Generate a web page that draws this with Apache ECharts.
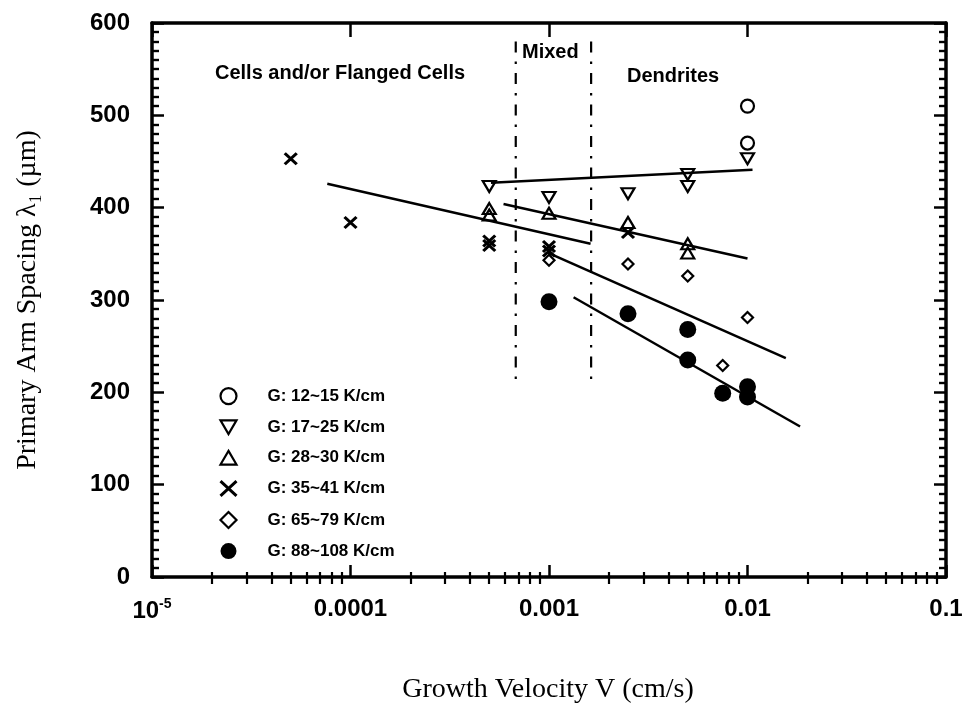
<!DOCTYPE html>
<html>
<head>
<meta charset="utf-8">
<script src="https://cdn.jsdelivr.net/npm/echarts@6/dist/echarts.min.js"></script>
<style>
  html, body { margin: 0; padding: 0; background: #fff; }
  #chart { width: 967px; height: 713px; }
</style>
</head>
<body>
<div id="chart"></div>
<script>
// Primary arm spacing versus growth velocity, grouped by thermal gradient G.
const seriesNames = ['G: 12~15 K/cm', 'G: 17~25 K/cm', 'G: 28~30 K/cm',
                     'G: 35~41 K/cm', 'G: 65~79 K/cm', 'G: 88~108 K/cm'];

// [velocity (cm/s), spacing (µm)]
const g12_15  = [[0.01, 510], [0.01, 470]];
const g17_25  = [[0.0005, 423], [0.001, 411], [0.0025, 415], [0.005, 436], [0.005, 423], [0.01, 453]];
const g28_30  = [[0.0005, 399], [0.0005, 392], [0.001, 394], [0.0025, 384], [0.005, 361], [0.005, 351]];
const g35_41  = [[0.00005, 453], [0.0001, 384], [0.0005, 364], [0.0005, 359], [0.001, 358], [0.001, 353], [0.0025, 373]];
const g65_79  = [[0.001, 343], [0.0025, 339], [0.005, 326], [0.0075, 229], [0.01, 281]];
const g88_108 = [[0.001, 298], [0.0025, 285], [0.005, 268], [0.005, 235], [0.0075, 199], [0.01, 206], [0.01, 195]];

// Fitted trend lines (end points)
const fit17_25  = [[0.00051, 427], [0.0106, 441]];
const fit28_30  = [[0.00059, 404], [0.01, 345]];
const fit35_41  = [[0.0000764, 426], [0.00162, 361]];
const fit65_79  = [[0.00099, 351], [0.0156, 237]];
const fit88_108 = [[0.00133, 303], [0.0184, 163]];

// Regime boundaries (dash-dot verticals)
const boundaryCellMixed = [[0.00068, 580], [0.00068, 205]];
const boundaryMixedDend = [[0.00163, 580], [0.00163, 212]];

// Axis settings
const xMin = 1e-5, xMax = 0.1;
const yMin = 0, yMax = 600, yStep = 100;
const xTickLabels = ['10^-5', '0.0001', '0.001', '0.01', '0.1'];
const minorMultipliers = [2, 3, 4, 5, 6, 7, 8, 9];
const decadeStarts = [1e-5, 1e-4, 1e-3, 1e-2];

const xMinorTicks = [];
decadeStarts.forEach(d => minorMultipliers.forEach(m => xMinorTicks.push(m * d)));

const SANS = '"Liberation Sans", Arial, Helvetica, sans-serif';
const SERIF = '"Liberation Serif", "Times New Roman", serif';

const HOLLOW = 'rgba(0,0,0,0)';
const DOWN_TRI = 'path://M0,0L14,0L7,12Z';
const UP_TRI = 'path://M7,0L14,12L0,12Z';
const CROSS = 'path://M0,0L12,11M12,0L0,11';

const markerDefs = [
  { data: g12_15,  symbol: 'circle',  size: 13, color: HOLLOW, bw: 2.2 },
  { data: g17_25,  symbol: DOWN_TRI,  size: [13, 11], color: HOLLOW, bw: 2.2 },
  { data: g28_30,  symbol: UP_TRI,    size: [13, 11], color: HOLLOW, bw: 2.2 },
  { data: g35_41,  symbol: CROSS,     size: [12, 11], color: HOLLOW, bw: 3 },
  { data: g65_79,  symbol: 'diamond', size: [11, 11], color: HOLLOW, bw: 2.2 },
  { data: g88_108, symbol: 'circle',  size: 17, color: '#000', bw: 0 }
];

const scatterSeries = markerDefs.map((m, i) => ({
  name: seriesNames[i],
  type: 'scatter',
  data: m.data,
  symbol: m.symbol,
  symbolSize: m.size,
  itemStyle: { color: m.color, borderColor: '#000', borderWidth: m.bw, opacity: 1 },
  emphasis: { disabled: true },
  z: 5
}));

const fitLine = (data) => ({
  type: 'line',
  data: data,
  showSymbol: false,
  symbol: 'none',
  lineStyle: { color: '#000', width: 2.5 },
  emphasis: { disabled: true },
  silent: true,
  z: 3
});

const boundaryLine = (data) => ({
  type: 'line',
  data: data,
  showSymbol: false,
  symbol: 'none',
  lineStyle: { color: '#000', width: 2.2, type: [11, 9, 2.5, 9] },
  emphasis: { disabled: true },
  silent: true,
  z: 2
});

const axisLine = { show: true, onZero: false, lineStyle: { color: '#000', width: 3.5 } };

const chart = echarts.init(document.getElementById('chart'), null, { renderer: 'canvas' });

chart.setOption({
  animation: false,
  backgroundColor: '#fff',
  grid: { left: 152, right: 21, top: 23, bottom: 136, containLabel: false },
  xAxis: [
    {
      type: 'log', logBase: 10, min: xMin, max: xMax, position: 'bottom',
      axisLine: axisLine,
      axisTick: { show: true, inside: true, length: 12, lineStyle: { color: '#000', width: 2.5 } },
      splitLine: { show: false },
      axisLabel: {
        margin: 20,
        color: '#000',
        formatter: function (v) {
          const idx = Math.round(Math.log10(v)) + 5;
          const t = xTickLabels[idx] || '';
          if (t.indexOf('^') >= 0) {
            const parts = t.split('^');
            return '{b|' + parts[0] + '}{s|' + parts[1] + '}';
          }
          return '{b|' + t + '}';
        },
        rich: {
          b: { fontFamily: SANS, fontWeight: 'bold', fontSize: 24, color: '#000' },
          s: { fontFamily: SANS, fontWeight: 'bold', fontSize: 14, color: '#000', padding: [0, 0, 14, 0] }
        }
      }
    },
    {
      type: 'log', logBase: 10, min: xMin, max: xMax, position: 'bottom',
      axisLine: { show: false },
      axisLabel: { show: false },
      splitLine: { show: false },
      axisTick: { show: true, inside: true, length: 5, customValues: xMinorTicks, lineStyle: { color: '#000', width: 2.2 } }
    },
    {
      type: 'log', logBase: 10, min: xMin, max: xMax, position: 'top',
      axisLine: axisLine,
      axisLabel: { show: false },
      splitLine: { show: false },
      axisTick: { show: true, inside: true, length: 14, lineStyle: { color: '#000', width: 2.5 } }
    },
    {
      type: 'log', logBase: 10, min: xMin, max: xMax, position: 'top',
      axisLine: { show: false },
      axisLabel: { show: false },
      splitLine: { show: false },
      axisTick: { show: true, inside: true, length: 7, customValues: xMinorTicks, lineStyle: { color: '#000', width: 2.2 } }
    }
  ],
  yAxis: [
    {
      type: 'value', min: yMin, max: yMax, interval: yStep, position: 'left',
      axisLine: axisLine,
      axisTick: { show: true, inside: true, length: 12, lineStyle: { color: '#000', width: 2.5 } },
      minorTick: { show: true, splitNumber: 10, length: 7, lineStyle: { color: '#000', width: 2.4 } },
      splitLine: { show: false },
      axisLabel: { margin: 22, color: '#000', fontFamily: SANS, fontWeight: 'bold', fontSize: 24 }
    },
    {
      type: 'value', min: yMin, max: yMax, interval: yStep, position: 'right',
      axisLine: axisLine,
      axisTick: { show: true, inside: true, length: 12, lineStyle: { color: '#000', width: 2.5 } },
      minorTick: { show: true, splitNumber: 10, length: 7, lineStyle: { color: '#000', width: 2.4 } },
      splitLine: { show: false },
      axisLabel: { show: false }
    }
  ],
  legend: {
    orient: 'vertical',
    left: 214,
    top: 382,
    itemWidth: 16,
    itemHeight: 16,
    itemGap: 13.5,
    selectedMode: false,
    formatter: name => '{p|}{t|' + name + '}',
    textStyle: {
      rich: {
        p: { width: 26 },
        t: { fontFamily: SANS, fontWeight: 'bold', fontSize: 17, color: '#000', lineHeight: 16 }
      }
    },
    data: seriesNames.map((n, i) => ({
      name: n,
      icon: markerDefs[i].symbol,
      itemStyle: { color: markerDefs[i].color, borderColor: '#000', borderWidth: markerDefs[i].bw }
    }))
  },
  graphic: [
    { type: 'text', left: 215, top: 63, style: { text: 'Cells and/or Flanged Cells', font: 'bold 20px ' + SANS, fill: '#000' } },
    { type: 'text', left: 522, top: 42, style: { text: 'Mixed', font: 'bold 20px ' + SANS, fill: '#000' } },
    { type: 'text', left: 627, top: 66, style: { text: 'Dendrites', font: 'bold 20px ' + SANS, fill: '#000' } },
    {
      type: 'text', x: 28, y: 300, rotation: Math.PI / 2,
      style: { text: 'Primary Arm Spacing λ₁ (µm)', font: '28px ' + SERIF, fill: '#000', align: 'center', verticalAlign: 'middle' }
    },
    {
      type: 'text', x: 548, y: 690,
      style: { text: 'Growth Velocity V (cm/s)', font: '28px ' + SERIF, fill: '#000', align: 'center', verticalAlign: 'middle' }
    }
  ],
  series: [
    boundaryLine(boundaryCellMixed),
    boundaryLine(boundaryMixedDend),
    fitLine(fit17_25),
    fitLine(fit28_30),
    fitLine(fit35_41),
    fitLine(fit65_79),
    fitLine(fit88_108)
  ].concat(scatterSeries)
});
</script>
</body>
</html>
